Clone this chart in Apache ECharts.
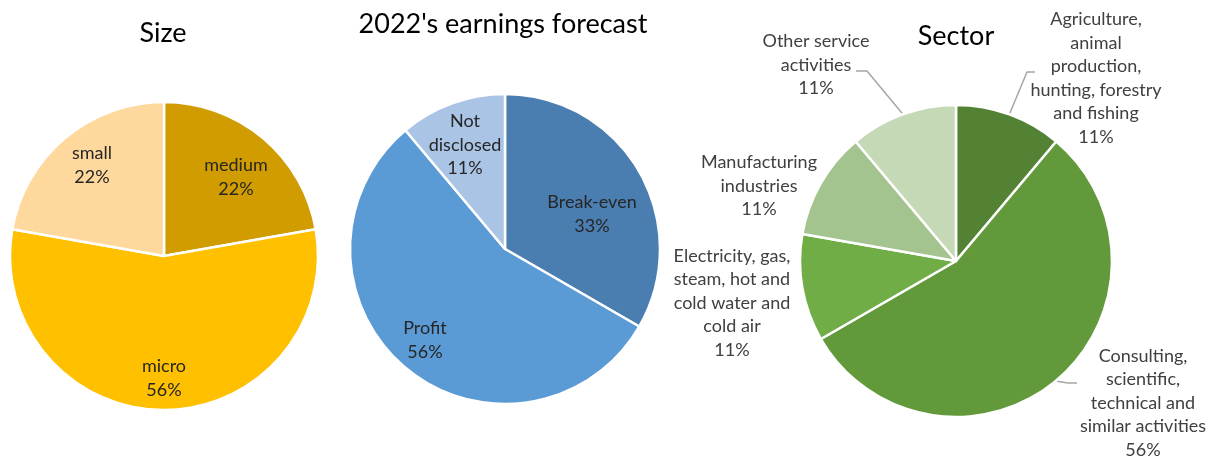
<!DOCTYPE html>
<html>
<head>
<meta charset="utf-8">
<script src="https://cdn.jsdelivr.net/npm/echarts@6/dist/echarts.min.js"></script>
<style>
  html, body { margin: 0; padding: 0; background: #fff; }
  #chart { width: 1218px; height: 456px; }
</style>
</head>
<body>
<div id="chart"></div>
<script>
// Company size
const sizeNames = ['medium', 'micro', 'small'];
const sizeValues = [2, 5, 2];
const sizeColors = ['#D09C00', '#FFC000', '#FED89C'];

// Earnings forecast for 2022
const earnNames = ['Break-even', 'Profit', 'Not\ndisclosed'];
const earnValues = [3, 5, 1];
const earnColors = ['#4A7DB0', '#5B9BD5', '#A9C4E5'];

// Sector of activity
const sectorNames = [
  'Agriculture,\nanimal\nproduction,\nhunting, forestry\nand fishing',
  'Consulting,\nscientific,\ntechnical and\nsimilar activities',
  'Electricity, gas,\nsteam, hot and\ncold water and\ncold air',
  'Manufacturing\nindustries',
  'Other service\nactivities'
];
const sectorValues = [1, 5, 1, 1, 1];
const sectorColors = ['#548235', '#62993A', '#70AD47', '#A3C48F', '#C5D9B7'];

const titles = ['Size', "2022's earnings forecast", 'Sector'];

const FONT = 'Lato, "Open Sans", sans-serif';

// Pie geometry, label block centres and leader-line bends, all relative to each pie's centre
const pies = [
  { center: [164, 256], radius: 154, labelOffsets: [[72, -79], [0, 122], [-72, -91]] },
  { center: [505, 249], radius: 155, labelOffsets: [[87, -35], [-80, 91], [-40, -104]] },
  {
    center: [956, 261], radius: 156,
    labelOffsets: [[140, -183], [187, 142], [-224, 42], [-197, -75], [-140, -196]],
    leaderBends: [[[71, -189], [79, -189]], [[112, 122], [121, 122]], null, null, [[-89, -190], [-100, -190]]]
  }
];

function toData(names, values, colors) {
  return names.map((n, i) => ({ name: n, value: values[i], itemStyle: { color: colors[i] } }));
}

// Mid-angle of a slice (clockwise from 12 o'clock) from the series values
function midAngle(values, i) {
  const total = values.reduce((a, b) => a + b, 0);
  let before = 0;
  for (let k = 0; k < i; k++) before += values[k];
  return ((before + values[i] / 2) / total) * Math.PI * 2;
}

function placeLabel(params) {
  const pie = pies[params.seriesIndex];
  const off = pie.labelOffsets[params.dataIndex];
  const cx = pie.center[0], cy = pie.center[1];
  const out = {
    x: cx + off[0],
    y: cy + off[1],
    align: 'center',
    verticalAlign: 'middle',
    hideOverlap: false
  };
  const bends = pie.leaderBends && pie.leaderBends[params.dataIndex];
  if (bends) {
    const a = midAngle(sectorValues, params.dataIndex);
    const r = pie.radius + 1;
    out.labelLinePoints = [
      [cx + r * Math.sin(a), cy - r * Math.cos(a)],
      [cx + bends[0][0], cy + bends[0][1]],
      [cx + bends[1][0], cy + bends[1][1]]
    ];
  }
  return out;
}

const labelFmt = p => p.name + '\n' + Math.round(p.percent) + '%';

function pieSeries(idx, data, outside) {
  return {
    type: 'pie',
    center: pies[idx].center,
    radius: pies[idx].radius,
    startAngle: 90,
    clockwise: true,
    data: data,
    silent: true,
    itemStyle: { borderColor: '#fff', borderWidth: 2.5 },
    label: {
      show: true,
      position: outside ? 'outside' : 'inside',
      formatter: labelFmt,
      fontFamily: FONT,
      fontSize: 18,
      lineHeight: 23.5,
      overflow: 'none',
      color: outside ? '#404040' : '#262626'
    },
    labelLine: {
      show: outside,
      length: 22,
      length2: 8,
      lineStyle: { color: '#A6A6A6', width: 1.5 }
    },
    labelLayout: placeLabel
  };
}

const sectorData = toData(sectorNames, sectorValues, sectorColors);
sectorData[2].labelLine = { show: false };
sectorData[3].labelLine = { show: false };

const titleStyle = { fontFamily: FONT, fontSize: 27, fontWeight: 'normal', color: '#000' };

const chart = echarts.init(document.getElementById('chart'), null, { renderer: 'canvas' });
chart.setOption({
  backgroundColor: '#fff',
  animation: false,
  title: [
    { text: titles[0], left: 158, top: 15, textAlign: 'center', textStyle: titleStyle },
    { text: titles[1], left: 498, top: 6, textAlign: 'center', textStyle: titleStyle },
    { text: titles[2], left: 951, top: 18, textAlign: 'center', textStyle: titleStyle }
  ],
  series: [
    pieSeries(0, toData(sizeNames, sizeValues, sizeColors), false),
    pieSeries(1, toData(earnNames, earnValues, earnColors), false),
    pieSeries(2, sectorData, true)
  ]
});
</script>
</body>
</html>
